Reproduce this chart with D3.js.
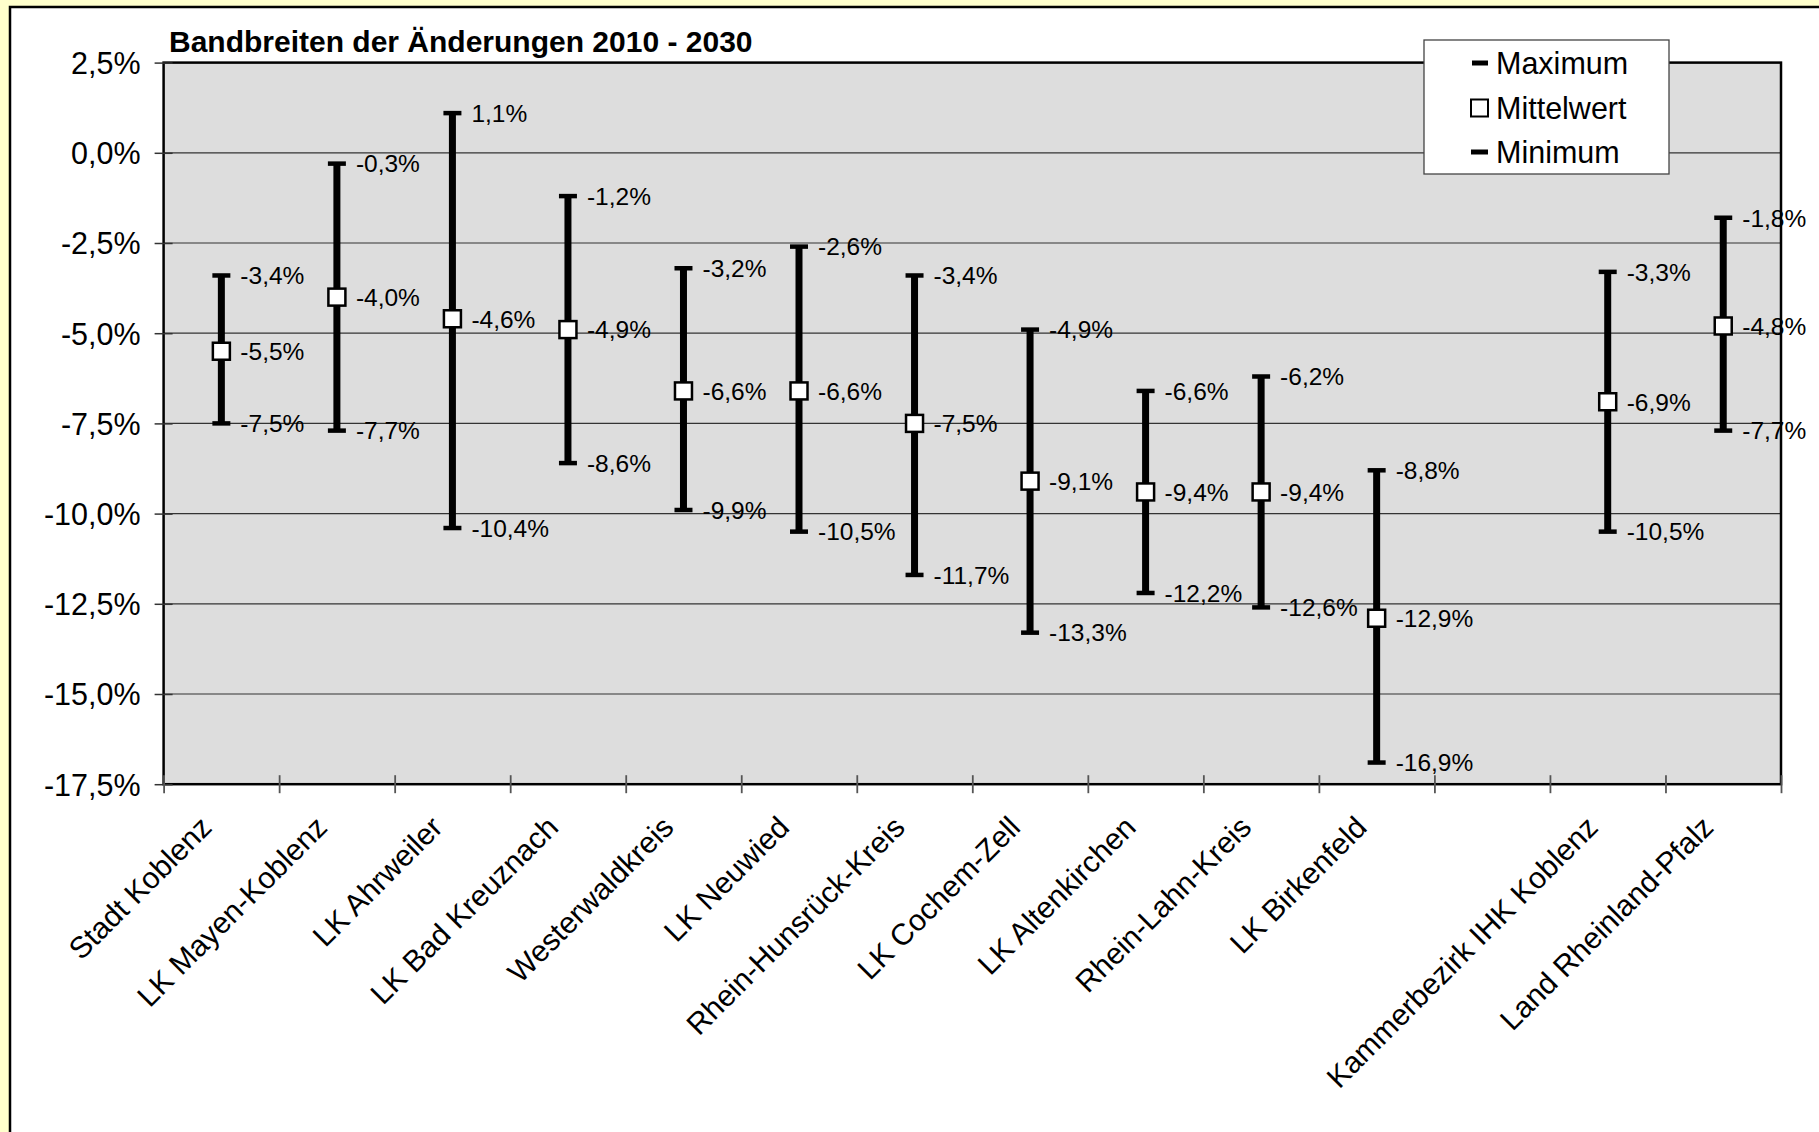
<!DOCTYPE html>
<html>
<head>
<meta charset="utf-8">
<script src="https://cdn.jsdelivr.net/npm/d3@7"></script>
<style>
html,body{margin:0;padding:0;background:#FFFFCC;}
svg{display:block;}
text{font-family:"Liberation Sans",Arial,sans-serif;fill:#000;}
</style>
</head>
<body>
<svg id="chart" width="1819" height="1132"></svg>
<script>
// ---- data ----
const categories = ["Stadt Koblenz","LK Mayen-Koblenz","LK Ahrweiler","LK Bad Kreuznach","Westerwaldkreis","LK Neuwied","Rhein-Hunsrück-Kreis","LK Cochem-Zell","LK Altenkirchen","Rhein-Lahn-Kreis","LK Birkenfeld","","Kammerbezirk IHK Koblenz","Land Rheinland-Pfalz"];
const maxValues  = [-3.4,-0.3, 1.1,-1.2,-3.2,-2.6,-3.4,-4.9,-6.6,-6.2,-8.8,null,-3.3,-1.8];
const meanValues = [-5.5,-4.0,-4.6,-4.9,-6.6,-6.6,-7.5,-9.1,-9.4,-9.4,-12.9,null,-6.9,-4.8];
const minValues  = [-7.5,-7.7,-10.4,-8.6,-9.9,-10.5,-11.7,-13.3,-12.2,-12.6,-16.9,null,-10.5,-7.7];
const yTicks = [2.5,0,-2.5,-5,-7.5,-10,-12.5,-15,-17.5];
const legendLabels = ["Maximum","Mittelwert","Minimum"];
const chartTitle = "Bandbreiten der Änderungen 2010 - 2030";

// ---- layout ----
const W = 1819, H = 1132;
const pL = 163.6, pR = 1781, pT = 62.6, pB = 784.2;

const svg = d3.select("#chart");
svg.append("rect").attr("x",10).attr("y",7).attr("width",W).attr("height",H).attr("fill","#fff").attr("stroke","#000").attr("stroke-width",2.5);

const de = d3.formatLocale({decimal:",",thousands:".",grouping:[3],currency:["","€"],minus:"-"});
const fmt = v => de.format(".1f")(v) + "%";

const idx = d3.range(categories.length);
const x = d3.scaleBand().domain(idx).range([pL,pR]).paddingInner(0).paddingOuter(0);
const xb = d3.scaleLinear().domain([0,categories.length]).range([pL,pR]);
const y = d3.scaleLinear().domain([-17.5,2.5]).range([pB,pT]);

svg.append("rect").attr("x",pL).attr("y",pT).attr("width",pR-pL).attr("height",pB-pT).attr("fill","#DDDDDD");

svg.append("g").selectAll("line").data(yTicks.filter(t=>t>-17.5 && t<2.5)).join("line")
  .attr("x1",pL).attr("x2",pR).attr("y1",d=>y(d)).attr("y2",d=>y(d))
  .attr("stroke","#333").attr("stroke-width",1.2);

svg.append("rect").attr("x",pL).attr("y",pT).attr("width",pR-pL).attr("height",pB-pT)
  .attr("fill","none").attr("stroke","#000").attr("stroke-width",2.5);

const yAxis = svg.append("g").attr("transform",`translate(${pL},0)`)
  .call(d3.axisLeft(y).tickValues(yTicks).tickFormat(fmt).tickSizeInner(9).tickSizeOuter(0).tickPadding(14));
yAxis.select(".domain").remove();
yAxis.selectAll(".tick line").attr("stroke","#333").attr("stroke-width",1.5).attr("x2",-9).attr("x1",9);
yAxis.selectAll(".tick text").attr("font-size",30.5).attr("font-family","Liberation Sans, Arial, sans-serif").attr("fill","#000").attr("dy","0.36em");

const xAxis = svg.append("g").attr("transform",`translate(0,${pB})`)
  .call(d3.axisBottom(xb).tickValues(d3.range(categories.length+1)).tickFormat("").tickSizeOuter(0).tickSizeInner(9));
xAxis.select(".domain").remove();
xAxis.selectAll(".tick line").attr("stroke","#555").attr("stroke-width",1.8).attr("y1",-9).attr("y2",9);

svg.append("g").selectAll("text").data(idx.filter(i=>categories[i]!=="")).join("text")
  .attr("transform",i=>`translate(${x(i)+x.bandwidth()/2-8},${pB+45}) rotate(-45)`)
  .attr("text-anchor","end").attr("font-size",30).text(i=>categories[i]);

svg.append("text").attr("x",169).attr("y",52).attr("font-size",30).attr("font-weight","bold").text(chartTitle);

const pts = idx.filter(i=>meanValues[i]!==null);
const cx = i => x(i)+x.bandwidth()/2;
const g = svg.append("g");
g.selectAll("line.bar").data(pts).join("line").attr("class","bar")
  .attr("x1",cx).attr("x2",cx).attr("y1",i=>y(maxValues[i])).attr("y2",i=>y(minValues[i]))
  .attr("stroke","#000").attr("stroke-width",7);
g.selectAll("line.capmax").data(pts).join("line").attr("class","capmax")
  .attr("x1",i=>cx(i)-9).attr("x2",i=>cx(i)+9).attr("y1",i=>y(maxValues[i])).attr("y2",i=>y(maxValues[i]))
  .attr("stroke","#000").attr("stroke-width",4.5);
g.selectAll("line.capmin").data(pts).join("line").attr("class","capmin")
  .attr("x1",i=>cx(i)-9).attr("x2",i=>cx(i)+9).attr("y1",i=>y(minValues[i])).attr("y2",i=>y(minValues[i]))
  .attr("stroke","#000").attr("stroke-width",4.5);
g.selectAll("rect.mean").data(pts).join("rect").attr("class","mean")
  .attr("x",i=>cx(i)-8.5).attr("y",i=>y(meanValues[i])-8.5).attr("width",17).attr("height",17)
  .attr("fill","#fff").attr("stroke","#000").attr("stroke-width",2.5);

const labels = [];
pts.forEach(i=>{
  labels.push({i, v:maxValues[i]});
  labels.push({i, v:meanValues[i]});
  labels.push({i, v:minValues[i]});
});
svg.append("g").selectAll("text").data(labels).join("text")
  .attr("x",d=>cx(d.i)+19).attr("y",d=>y(d.v)).attr("dy","0.36em")
  .attr("font-size",24.5).text(d=>fmt(d.v));

const lg = svg.append("g");
lg.append("rect").attr("x",1424).attr("y",40).attr("width",245).attr("height",134)
  .attr("fill","#fff").attr("stroke","#444").attr("stroke-width",1.3);
const ly = [63,108,152];
lg.append("line").attr("x1",1472).attr("x2",1488).attr("y1",ly[0]).attr("y2",ly[0]).attr("stroke","#000").attr("stroke-width",5);
lg.append("rect").attr("x",1471).attr("y",ly[1]-8.5).attr("width",17).attr("height",17).attr("fill","#fff").attr("stroke","#000").attr("stroke-width",2);
lg.append("line").attr("x1",1471).attr("x2",1488).attr("y1",ly[2]).attr("y2",ly[2]).attr("stroke","#000").attr("stroke-width",5);
lg.selectAll("text").data(legendLabels).join("text")
  .attr("x",1496).attr("y",(d,k)=>ly[k]).attr("dy","0.36em").attr("font-size",30.5).text(d=>d);
</script>
</body>
</html>
